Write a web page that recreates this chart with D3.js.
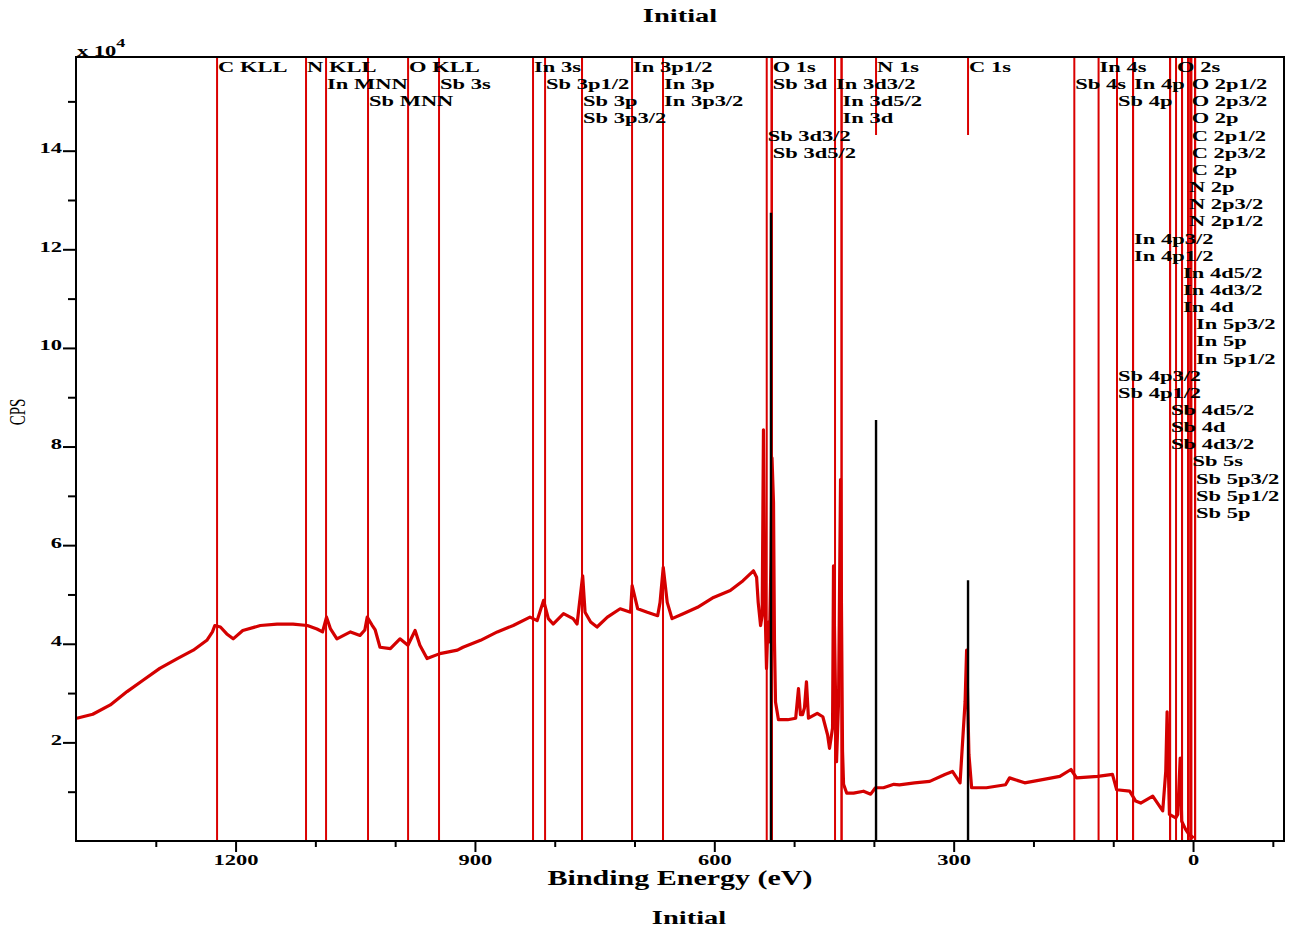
<!DOCTYPE html>
<html>
<head>
<meta charset="utf-8">
<script src="https://cdn.jsdelivr.net/npm/d3@7"></script>
<style>
body { margin: 0; background: #fff; }
text { font-family: "Liberation Serif", "Times New Roman", serif; }
</style>
</head>
<body>
<script>

// survey spectrum (binding energy eV / counts per second)
var spectrumBE = [1399, 1379, 1357, 1336, 1316, 1295, 1273, 1253, 1236, 1229, 1226, 1219, 1211, 1203, 1191,
  1169, 1148, 1128, 1110, 1098, 1091, 1086, 1081, 1073, 1056, 1044, 1038, 1035, 1029, 1025, 1019, 1006,
  994, 984, 975, 969, 960, 944, 922, 915, 893, 872, 852, 831, 822, 814, 808, 802, 789, 777, 772, 765,
  762, 755, 747, 734, 718, 705, 703, 696, 684, 671, 668, 664, 659, 653, 639, 621, 601, 580, 564, 551,
  547, 545, 542, 540, 538.4, 536.5, 534.6, 532.7, 530.9, 529, 527.7, 525.8, 524.6, 523.3, 519.6, 508,
  498, 494.5, 492, 489.5, 487, 484.5, 482, 471, 464, 458, 455.6, 451.8, 450.6, 446.8, 444.3, 441.8,
  439.3, 438, 434, 425.5, 413, 404, 398, 388, 375, 368, 349, 330, 311, 301.5, 292, 285.7, 283.8, 280.9,
  277.5, 259, 235, 230, 211, 187, 167, 153, 146, 119.5, 101, 95.7, 79.4, 71.9, 65.6, 50.5, 38, 34.2,
  32.5, 29.6, 21.7, 19.2, 16.1, 14.2, 9.5, 5.4, -0.9];
var spectrumCPS = [24900, 25700, 27600, 30300, 32600, 35000, 37000, 38700, 40700, 42400, 43700, 43400, 42000, 41000, 42700,
  43700, 44000, 44000, 43700, 43000, 42400, 45400, 43000, 41000, 42400, 41700, 42800, 45400, 43800, 42800, 39300, 39000,
  41000, 39700, 42700, 39700, 37000, 38000, 38700, 39300, 40700, 42400, 43700, 45400, 44700, 48800, 45100, 44000, 46100, 45100, 44000, 53800,
  46400, 44400, 43400, 45400, 47100, 46400, 51800, 47100, 46400, 45700, 48400, 55500, 48400, 45100, 46100, 47400, 49400, 50800, 52800, 54800,
  53500, 48400, 43700, 45800, 83400, 48400, 35000, 44400, 40400, 56500, 77700, 68600, 40400, 28200, 24600, 24600,
  24900, 30900, 25600, 25600, 27000, 32300, 24900, 25900, 25200, 21500, 18800, 22900, 55800, 16100, 28200, 73300,
  18200, 11500, 9700, 9700, 10100, 9500, 10800, 10800, 11500, 11400, 11800, 12100, 13500, 14100, 11800, 28200, 38700, 17600,
  10800, 10800, 11400, 12800, 11800, 12500, 13100, 14500, 12800, 13100, 13500, 10400, 10100, 8100, 7700, 9100, 6100, 14100,
  26200, 5400, 4700, 5400, 16800, 4000, 2400, 1400, 600];

// element markers, in the order the labels get stacked
var markerNames = ["O KLL", "O 1s", "O 2s", "O 2p1/2", "O 2p3/2", "O 2p",
  "C KLL", "C 1s", "C 2p1/2", "C 2p3/2", "C 2p",
  "N KLL", "N 1s", "N 2p", "N 2p3/2", "N 2p1/2",
  "In MNN", "In 3s", "In 3p1/2", "In 3p", "In 3p3/2", "In 3d3/2", "In 3d5/2", "In 3d", "In 4s", "In 4p",
  "In 4p3/2", "In 4p1/2", "In 4d5/2", "In 4d3/2", "In 4d", "In 5p3/2", "In 5p", "In 5p1/2",
  "Sb MNN", "Sb 3s", "Sb 3p1/2", "Sb 3p", "Sb 3p3/2", "Sb 3d3/2", "Sb 3d", "Sb 3d5/2", "Sb 4s", "Sb 4p",
  "Sb 4p3/2", "Sb 4p1/2", "Sb 4d5/2", "Sb 4d", "Sb 4d3/2", "Sb 5s", "Sb 5p3/2", "Sb 5p1/2", "Sb 5p"];
var markerBE = [983.8, 528.0, 21.3, 2.9, 2.9, 2.9,
  1223.2, 282.0, 2.9, 2.9, 2.9,
  1111.7, 397.3, 6.3, 6.3, 6.3,
  1086.6, 827.2, 703.1, 664.3, 664.3, 448.7, 440.5, 440.5, 118.4, 75.2,
  75.2, 75.2, 13.8, 13.8, 13.8, -2.5, -2.5, -2.5,
  1034.0, 945.0, 812.1, 765.8, 765.8, 534.3, 528.0, 528.0, 148.8, 95.3,
  95.3, 95.3, 28.8, 28.8, 28.8, 2.0, -2.5, -2.5, -2.5];
var shortMarkers = ["N 1s", "C 1s"];

// fitted peak positions (black bars)
var peakBE = [529.0, 397.3, 282.0];
var peakCPS = [127400, 85400, 52900];

var xMajor = [1200, 900, 600, 300, 0];
var xMinor = [1300, 1100, 1000, 800, 700, 500, 400, 200, 100, -100];
var yMajor = [20000, 40000, 60000, 80000, 100000, 120000, 140000];
var yMinor = [10000, 30000, 50000, 70000, 90000, 110000, 130000, 150000];

var width = 1300,
    height = 932;
var stretch = 1.5;   // the whole figure is widened horizontally

var svg = d3.select("body").append("svg")
    .attr("width", width)
    .attr("height", height);

var x = d3.scaleLinear().domain([1400, -114]).range([76, 1284]);
var y = d3.scaleLinear().domain([0, 159000]).range([841, 57]);

function wide(sel, tx, ty) {
  return sel.attr("x", 0).attr("y", 0).attr("dy", null)
    .attr("transform", "translate(" + tx + "," + ty + ") scale(" + stretch + ",1)");
}

// spectrum
var line = d3.line()
    .x(function (d, i) { return x(spectrumBE[i]); })
    .y(function (d) { return y(d); });

svg.append("path")
    .datum(spectrumCPS)
    .attr("fill", "none")
    .attr("stroke", "#d40000")
    .attr("stroke-width", 3.2)
    .attr("stroke-linejoin", "round")
    .attr("d", line);

// marker lines
svg.selectAll(".marker")
    .data(markerBE)
    .enter().append("line")
    .attr("class", "marker")
    .attr("x1", function (d) { return x(d); })
    .attr("x2", function (d) { return x(d); })
    .attr("y1", y.range()[1])
    .attr("y2", function (d, i) {
      return shortMarkers.indexOf(markerNames[i]) >= 0 ? 135 : y.range()[0];
    })
    .attr("stroke", "#da0000")
    .attr("stroke-width", 2);

// black peak bars
svg.selectAll(".peak")
    .data(peakCPS)
    .enter().append("line")
    .attr("class", "peak")
    .attr("x1", function (d, i) { return x(peakBE[i]); })
    .attr("x2", function (d, i) { return x(peakBE[i]); })
    .attr("y1", function (d) { return y(d); })
    .attr("y2", y(0))
    .attr("stroke", "#000")
    .attr("stroke-width", 2.4);

// marker labels, stacked into the first row where they fit
var labelG = svg.append("g")
    .attr("font-size", 15)
    .attr("font-weight", "bold");
var rows = [];
markerNames.forEach(function (name, i) {
  var lx = x(markerBE[i]) + 1;
  var t = labelG.append("text").text(name);
  var w = t.node().getComputedTextLength() * stretch;
  var r = 0;
  while (rows[r] && rows[r].some(function (s) { return lx < s[1] + 3 && s[0] < lx + w + 3; })) r++;
  if (!rows[r]) rows[r] = [];
  rows[r].push([lx, lx + w]);
  wide(t, lx, 72 + r * 17.15);
});

// axes
var xAxis = svg.append("g")
    .attr("transform", "translate(0," + y(0) + ")")
    .call(d3.axisBottom(x).tickValues(xMajor).tickSize(11).tickSizeOuter(0).tickFormat(d3.format("d")));
svg.append("g")
    .attr("transform", "translate(0," + y(0) + ")")
    .call(d3.axisBottom(x).tickValues(xMinor).tickSize(6).tickSizeOuter(0).tickFormat(""));

var yAxis = svg.append("g")
    .attr("transform", "translate(" + x.range()[0] + ",0)")
    .call(d3.axisLeft(y).tickValues(yMajor).tickSize(13).tickSizeOuter(0).tickFormat(function (d) { return d / 10000; }));
svg.append("g")
    .attr("transform", "translate(" + x.range()[0] + ",0)")
    .call(d3.axisLeft(y).tickValues(yMinor).tickSize(8).tickSizeOuter(0).tickFormat(""));

svg.selectAll(".domain").remove();
svg.selectAll(".tick line").attr("stroke", "#000").attr("stroke-width", 2);
xAxis.selectAll("text").each(function () { wide(d3.select(this), 0, 24); });
yAxis.selectAll("text").each(function () { wide(d3.select(this), -14, 2); });
svg.selectAll(".tick text")
    .attr("font-family", "Liberation Serif, serif")
    .attr("font-size", 15)
    .attr("font-weight", "bold")
    .attr("fill", "#000");

// frame
svg.append("rect")
    .attr("x", x.range()[0])
    .attr("y", y.range()[1])
    .attr("width", x.range()[1] - x.range()[0])
    .attr("height", y.range()[0] - y.range()[1])
    .attr("fill", "none")
    .attr("stroke", "#000")
    .attr("stroke-width", 2);

// texts
var exp = svg.append("text")
    .attr("font-size", 15)
    .attr("font-weight", "bold");
exp.append("tspan").text("x 10");
exp.append("tspan").attr("dy", -9).attr("font-size", 12).text("4");
wide(exp, 77, 56);

wide(svg.append("text").attr("font-size", 19).attr("font-weight", "bold")
    .attr("text-anchor", "middle").text("Initial"), 680, 22);

wide(svg.append("text").attr("font-size", 20).attr("font-weight", "bold")
    .attr("text-anchor", "middle").text("Binding Energy (eV)"), 680, 885);

wide(svg.append("text").attr("font-size", 19).attr("font-weight", "bold")
    .attr("text-anchor", "middle").text("Initial"), 689, 924);

svg.append("text")
    .attr("font-size", 15)
    .attr("text-anchor", "middle")
    .attr("transform", "translate(25,412) scale(" + stretch + ",1) rotate(-90)")
    .text("CPS");

</script>
</body>
</html>
